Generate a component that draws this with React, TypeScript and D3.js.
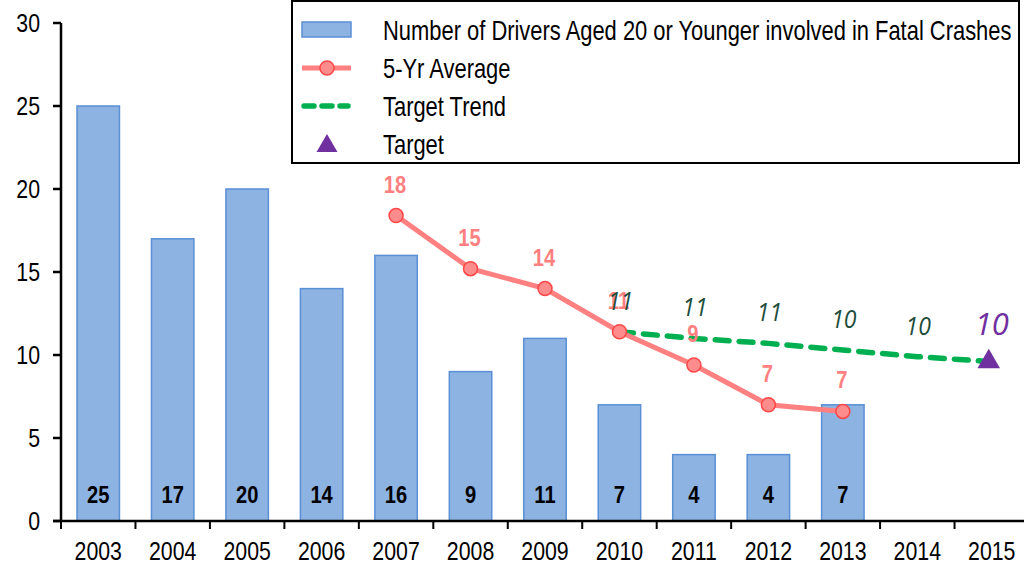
import * as d3 from 'd3';
import React from 'react';

const years = ['2003', '2004', '2005', '2006', '2007', '2008', '2009', '2010', '2011', '2012', '2013', '2014', '2015'];
const drivers = [25, 17, 20, 14, 16, 9, 11, 7, 4, 4, 7];
const avgYears = ['2007', '2008', '2009', '2010', '2011', '2012', '2013'];
const avgValues = [18.4, 15.2, 14.0, 11.4, 9.4, 7.0, 6.6];
const trendYears = ['2010', '2011', '2012', '2013', '2014', '2015'];
const trendValues = [11.4, 11.0, 10.7, 10.3, 9.9, 9.6];
const targetYear = '2015';
const targetValue = 9.6;
const yTicks = [0, 5, 10, 15, 20, 25, 30];

const legendItems = [
  'Number of Drivers Aged 20 or Younger involved in Fatal Crashes',
  '5-Yr Average',
  'Target Trend',
  'Target',
];

const FONT = "'Liberation Sans', Arial, sans-serif";
const ITALIC_FONT = "'Open Sans', 'DejaVu Sans', sans-serif";

// narrow text: the original uses a condensed face, so squeeze Liberation Sans horizontally
const NText = ({ x, y, size, anchor = 'middle', bold = false, fill = '#000', sx = 0.82, children }: any) => (
  <text
    transform={`translate(${x},${y}) scale(${sx},1)`}
    textAnchor={anchor}
    fontSize={size}
    fontWeight={bold ? 'bold' : 'normal'}
    fill={fill}
  >
    {children}
  </text>
);

export default function App() {
  const width = 1024,
    height = 565;
  const x = d3.scaleBand().domain(years).range([61, 1029]).paddingInner(0);
  const y = d3.scaleLinear().domain([0, 30]).range([521, 23]);
  const cx = (yr: string) => (x(yr) ?? 0) + x.bandwidth() / 2;
  const barW = x.bandwidth() * 0.57;

  const line = d3
    .line<number>()
    .x((_, i) => cx(avgYears[i]))
    .y((d) => y(d));
  const trendLine = d3
    .line<number>()
    .x((_, i) => cx(trendYears[i]))
    .y((d) => y(d));

  const tx = cx(targetYear) - 3;
  const ty = y(targetValue);
  const tri = d3.symbol().type(d3.symbolTriangle).size(220)();
  const triSmall = d3.symbol().type(d3.symbolTriangle).size(190)();

  return (
    <svg
      width={width}
      height={height}
      style={{ position: 'absolute', left: 0, top: 0, background: '#fff' }}
      fontFamily={FONT}
    >
      {/* bars */}
      {drivers.map((d, i) => (
        <g key={years[i]}>
          <rect
            x={cx(years[i]) - barW / 2}
            y={y(d)}
            width={barW}
            height={y(0) - y(d)}
            fill="#8DB3E2"
            stroke="#5B8FD6"
            strokeWidth={1.5}
          />
          <NText x={cx(years[i])} y={503} size={24} bold sx={0.84}>
            {d}
          </NText>
        </g>
      ))}

      {/* y axis */}
      <line x1={61} x2={61} y1={y(30)} y2={y(0)} stroke="#000" strokeWidth={2.5} />
      {yTicks.map((t) => (
        <g key={t}>
          <line x1={53} x2={61} y1={y(t)} y2={y(t)} stroke="#000" strokeWidth={2.5} />
          <NText x={40} y={y(t) + 9} size={26} anchor="end">
            {t}
          </NText>
        </g>
      ))}

      {/* x axis */}
      <line x1={53} x2={1029} y1={y(0)} y2={y(0)} stroke="#000" strokeWidth={2.5} />
      {years.map((yr) => (
        <line
          key={'t' + yr}
          x1={x(yr)}
          x2={x(yr)}
          y1={y(0)}
          y2={y(0) + 8}
          stroke="#000"
          strokeWidth={2}
        />
      ))}
      {years.map((yr) => (
        <NText key={'l' + yr} x={cx(yr)} y={560} size={26}>
          {yr}
        </NText>
      ))}

      {/* target trend */}
      <path
        d={trendLine(trendValues) ?? ''}
        fill="none"
        stroke="#00B050"
        strokeWidth={5.5}
        strokeDasharray="14 10"
        strokeLinecap="round"
      />

      {/* 5-yr average */}
      <path d={line(avgValues) ?? ''} fill="none" stroke="#FF8080" strokeWidth={5} />
      {avgValues.map((v, i) => (
        <circle
          key={'c' + i}
          cx={cx(avgYears[i])}
          cy={y(v)}
          r={7}
          fill="#FF8C8C"
          stroke="#FF4747"
          strokeWidth={1.5}
        />
      ))}
      {avgValues.map((v, i) => (
        <NText key={'a' + i} x={cx(avgYears[i]) - 1} y={y(v) - 23} size={24} bold fill="#FF8080" sx={0.84}>
          {Math.round(v)}
        </NText>
      ))}

      {/* trend labels */}
      {trendValues.slice(0, -1).map((v, i) => (
        <text
          key={'tr' + i}
          x={cx(trendYears[i]) + 1}
          y={y(v) - 22}
          textAnchor="middle"
          fontSize={25}
          fontStyle="italic"
          fontFamily={ITALIC_FONT}
          fill="#1E4D3B"
          transform={`translate(${cx(trendYears[i]) + 1},0) scale(0.92,1) translate(${-(cx(trendYears[i]) + 1)},0)`}
        >
          {Math.round(v)}
        </text>
      ))}

      {/* target */}
      <path d={tri ?? ''} transform={`translate(${tx},${ty})`} fill="#7030A0" />
      <text
        x={tx + 3}
        y={ty - 27}
        textAnchor="middle"
        fontSize={31}
        fontStyle="italic"
        fontFamily={ITALIC_FONT}
        fill="#7030A0"
      >
        {Math.round(targetValue)}
      </text>

      {/* legend */}
      <rect x={292} y={1} width={727} height={162} fill="#fff" stroke="#000" strokeWidth={2} />
      <rect x={302} y={22} width={49} height={15} fill="#8DB3E2" stroke="#5B8FD6" strokeWidth={1.5} />
      <line x1={302} x2={351} y1={68} y2={68} stroke="#FF8080" strokeWidth={5} />
      <circle cx={327} cy={68} r={7} fill="#FF8C8C" stroke="#FF4747" strokeWidth={1.5} />
      <line
        x1={304}
        x2={348}
        y1={106}
        y2={106}
        stroke="#00B050"
        strokeWidth={5.5}
        strokeDasharray="10 8"
        strokeLinecap="round"
      />
      <path d={triSmall ?? ''} transform="translate(327,146)" fill="#7030A0" />
      {legendItems.map((t, i) => (
        <NText key={t} x={383} y={[40, 78, 116, 154][i]} size={27} anchor="start" sx={0.812}>
          {t}
        </NText>
      ))}
    </svg>
  );
}
